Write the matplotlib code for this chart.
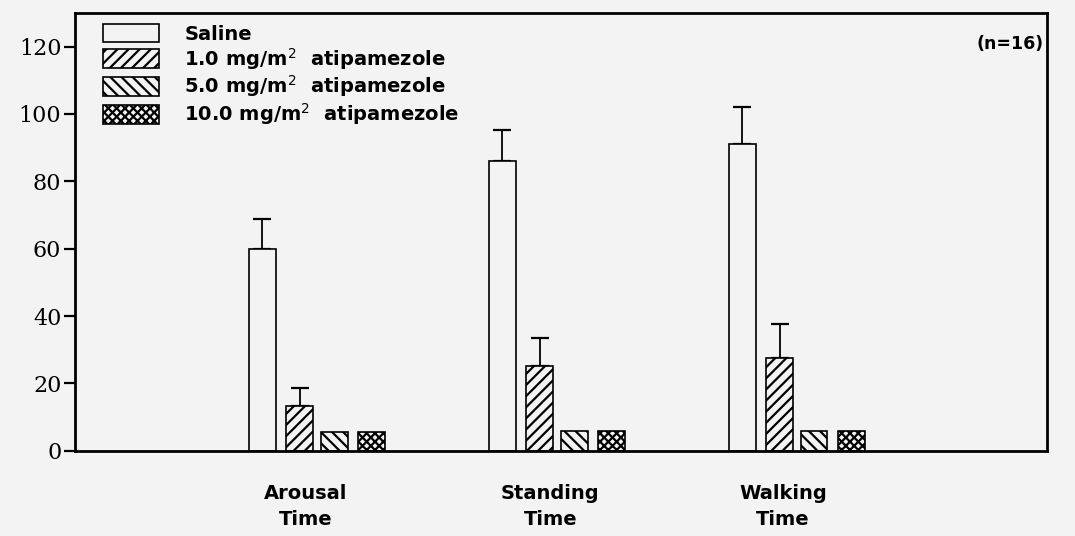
import numpy as np
import matplotlib
matplotlib.use('Agg')
import matplotlib.pyplot as plt

# recovery times per outcome and treatment group (n=16)
outcomes = ["Arousal\nTime", "Standing\nTime", "Walking\nTime"]
treatments = ["Saline",
              "1.0 mg/m$^2$  atipamezole",
              "5.0 mg/m$^2$  atipamezole",
              "10.0 mg/m$^2$  atipamezole"]
saline = [60.0, 86.0, 91.0]
saline_err = [8.7, 9.2, 11.0]
dose_1 = [13.2, 25.3, 27.5]
dose_1_err = [5.5, 8.2, 10.0]
dose_5 = [5.7, 6.0, 6.0]
dose_10 = [5.7, 6.0, 6.0]

bg = "#f3f3f3"
plt.rcParams['hatch.linewidth'] = 1.6

fig = plt.figure(figsize=(10.75, 5.36), dpi=100, facecolor=bg)
ax = fig.add_axes([0.07, 0.159, 0.904, 0.817], facecolor=bg)

x = np.arange(1, len(outcomes) + 1)
offsets = [-0.23, -0.075, 0.07, 0.225]
width = 0.11
series = [(saline, saline_err, ""), (dose_1, dose_1_err, "///"),
          (dose_5, None, "\\\\\\"), (dose_10, None, "xxxx")]

for (vals, err, hatch), off, name in zip(series, offsets, treatments):
    ax.bar(x + off, vals, width, facecolor=bg, edgecolor="black",
           linewidth=1.2, hatch=hatch, label=name, zorder=2)
    if err is not None:
        ax.errorbar(x + off, vals, yerr=[np.zeros(len(err)), err], fmt="none",
                    ecolor="black", elinewidth=1.3, capsize=6.5,
                    capthick=1.6, zorder=1)

ax.set_xlim(-0.01, 4.04)
ax.set_ylim(0, 130)
ax.set_yticks(range(0, 121, 20))
ax.tick_params(axis="y", direction="out", length=8, width=1.6, pad=2,
               labelsize=16)
for lab in ax.get_yticklabels():
    lab.set_family("DejaVu Serif")

ax.set_xticks([])
label_shift = [-0.05, -0.03, -0.06]
for xi, name, s in zip(x, outcomes, label_shift):
    ax.text(xi + s, -10, name, ha="center", va="top", fontsize=14,
            fontweight="bold", linespacing=1.45, clip_on=False,
            transform=ax.transData)

for sp in ax.spines.values():
    sp.set_linewidth(2)

ax.legend(loc="upper left", bbox_to_anchor=(0.029, 0.975), frameon=False,
          prop={"weight": "bold", "size": 14},
          handlelength=2.85, handleheight=1.1, handletextpad=1.3,
          labelspacing=0.1, borderaxespad=0, borderpad=0)

ax.text(0.996, 0.93, "(n=16)", transform=ax.transAxes, ha="right",
        va="center", fontsize=12.5, fontweight="bold")

fig.savefig("out.png", dpi=100, facecolor=bg)
